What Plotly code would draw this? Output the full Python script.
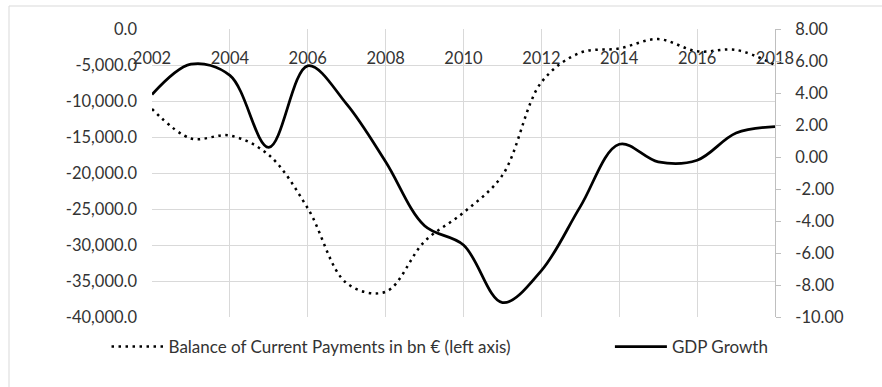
import plotly.graph_objects as go

# Annual data, 2002-2018
years = list(range(2002, 2019))
current_account = [-11100, -15200, -14800, -17500, -24900, -35300, -36500, -29500,
                   -25500, -20300, -7400, -3300, -2700, -1400, -3100, -2900, -5000]
gdp_growth = [3.9, 5.8, 5.1, 0.6, 5.7, 3.3, -0.3, -4.3, -5.5, -9.1, -7.1, -3.1,
              0.8, -0.3, -0.2, 1.5, 1.9]

# Axis ticks
year_ticks = list(range(2002, 2019, 2))
left_ticks = list(range(0, -40001, -5000))
right_ticks = list(range(8, -11, -2))
left_labels = [f"{v:,.1f}" for v in left_ticks]
right_labels = [f"{v:.2f}" for v in right_ticks]

FONT = "Lato"
TEXT = "#333333"
GRID = "#d9d9d9"
FS = 16.5
FS_LEG = 17

fig = go.Figure()
fig.add_trace(go.Scatter(
    x=years, y=current_account, mode="lines", yaxis="y",
    name="Balance of Current Payments in bn € (left axis)",
    line=dict(color="black", width=2.5, dash="2.5px,4.5px", shape="spline", smoothing=1),
    legend="legend", showlegend=True,
))
fig.add_trace(go.Scatter(
    x=years, y=gdp_growth, mode="lines", yaxis="y2",
    name="GDP Growth",
    line=dict(color="black", width=2.75, shape="spline", smoothing=1),
    legend="legend2", showlegend=True,
))

fig.update_layout(
    width=882, height=387,
    margin=dict(l=152, r=107, t=29, b=70),
    paper_bgcolor="white", plot_bgcolor="white",
    font=dict(family=FONT, size=FS, color=TEXT),
    showlegend=True,
    xaxis=dict(
        range=[2002, 2018], tickvals=year_ticks, ticktext=[str(y) for y in year_ticks],
        anchor="free", position=1 - 17 / 288, side="bottom", ticks="",
        ticklabelstandoff=0,
        showgrid=True, gridcolor=GRID, gridwidth=1, zeroline=False, showline=False,
    ),
    yaxis=dict(
        range=[-40000, 0], tickvals=left_ticks, ticktext=left_labels,
        showgrid=True, gridcolor=GRID, gridwidth=1, zeroline=False, showline=False,
        ticks="", ticklabelstandoff=14,
    ),
    yaxis2=dict(
        range=[-10, 8], tickvals=right_ticks, ticktext=right_labels,
        overlaying="y", side="right", showgrid=False, zeroline=False,
        showline=True, linecolor="#bfbfbf", linewidth=1,
        ticks="outside", ticklen=5, tickcolor="#bfbfbf", ticklabelstandoff=11,
    ),
    legend=dict(
        x=-0.073, y=-0.104, xanchor="left", yanchor="middle",
        orientation="h", itemwidth=52, font=dict(family=FONT, size=FS_LEG, color=TEXT),
        bgcolor="rgba(0,0,0,0)",
    ),
    legend2=dict(
        x=0.735, y=-0.104, xanchor="left", yanchor="middle",
        orientation="h", itemwidth=52, font=dict(family=FONT, size=FS_LEG, color=TEXT),
        bgcolor="rgba(0,0,0,0)",
    ),
    shapes=[dict(
        type="rect", xref="paper", yref="paper",
        x0=(9 - 152) / 623, x1=2, y0=-2, y1=1 + 23 / 288,
        line=dict(color="#d9d9d9", width=1), fillcolor="rgba(0,0,0,0)", layer="below",
    )],
)

fig.write_html("out.html")
